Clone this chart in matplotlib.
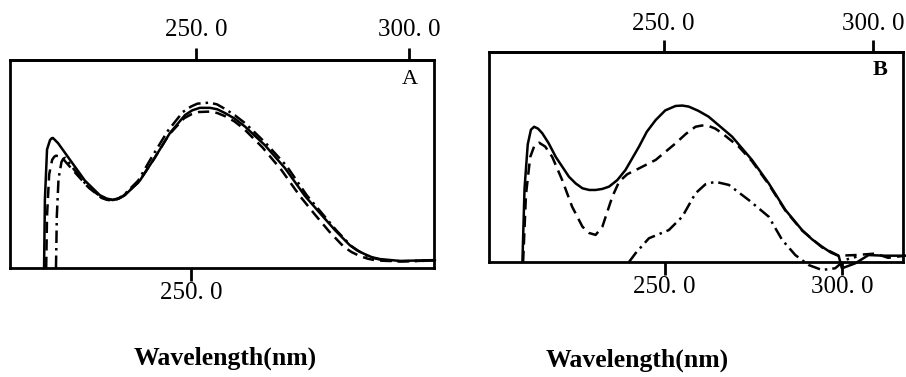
import matplotlib
matplotlib.use("Agg")
import matplotlib.pyplot as plt

# ---------------- Data (wavelength nm, relative absorbance) ----------------
# Panel A
a_solid_x = [215.5, 215.7, 216.2, 216.9, 217.3, 217.6, 218.8, 221.6, 225.1, 228.6, 230.2, 231.7,
             233.1, 234.5, 238.0, 241.5, 245.1, 248.6, 250.3, 252.1, 254.5, 256.2, 258.0, 260.3,
             262.7, 267.4, 272.1, 276.8, 280.3, 283.8, 287.3, 289.0, 290.8, 292.5, 294.4, 299.1,
             307.3]
a_solid_y = [0.0, 0.33, 0.57, 0.615, 0.624, 0.625, 0.60, 0.52, 0.42, 0.35, 0.334, 0.327,
             0.334, 0.35, 0.42, 0.53, 0.65, 0.735, 0.758, 0.77, 0.77, 0.763, 0.745, 0.718,
             0.68, 0.59, 0.48, 0.346, 0.264, 0.183, 0.11, 0.085, 0.067, 0.052, 0.043, 0.034,
             0.038]
a_dash_x = [216.0, 216.2, 216.7, 217.4, 217.9, 218.3, 219.5, 222.3, 225.8, 229.0, 230.2, 231.2,
            232.6, 234.0, 237.6, 241.2, 244.8, 248.4, 250.2, 251.9, 254.5, 256.2, 258.0, 260.2,
            262.4, 266.8, 271.3, 275.6, 279.0, 282.5, 286.0, 287.8, 289.6, 291.5, 293.5, 299.0,
            307.3]
a_dash_y = [0.0, 0.25, 0.45, 0.52, 0.535, 0.54, 0.535, 0.47, 0.39, 0.337, 0.328, 0.325,
            0.33, 0.345, 0.41, 0.52, 0.64, 0.72, 0.74, 0.75, 0.752, 0.745, 0.73, 0.705,
            0.67, 0.58, 0.47, 0.346, 0.26, 0.175, 0.10, 0.076, 0.058, 0.045, 0.036, 0.032,
            0.036]
a_dd_x = [218.3, 218.5, 218.9, 219.6, 220.0, 220.5, 222.3, 225.8, 229.0, 231.5, 233.0, 234.2,
          237.6, 241.0, 244.6, 248.1, 250.0, 251.5, 254.3, 256.1, 258.0, 260.4, 262.8, 267.6,
          272.5, 277.2, 280.7, 284.2, 287.7, 289.5, 291.2, 293.0, 295.0, 299.5, 307.3]
a_dd_y = [0.0, 0.25, 0.43, 0.51, 0.525, 0.53, 0.48, 0.39, 0.34, 0.327, 0.335, 0.35,
          0.42, 0.54, 0.66, 0.75, 0.776, 0.79, 0.795, 0.787, 0.765, 0.733, 0.695, 0.60,
          0.49, 0.35, 0.265, 0.18, 0.105, 0.08, 0.06, 0.047, 0.038, 0.032, 0.036]

# Panel B
b_solid_x = [210.0, 210.6, 211.5, 212.4, 213.3, 214.4, 215.6, 217.4, 219.4, 223.1, 225.0, 226.9,
             228.8, 230.6, 232.5, 234.4, 236.7, 239.0, 242.8, 245.0, 247.5, 250.2, 253.1, 255.0,
             256.8, 259.5, 262.4, 269.0, 274.6, 279.3, 284.0, 288.7, 291.5, 294.3, 296.8, 299.0,
             299.9, 301.5, 303.7, 307.4, 312.0, 317.7]
b_solid_y = [0.0, 0.35, 0.56, 0.63, 0.644, 0.635, 0.613, 0.565, 0.50, 0.406, 0.374, 0.351,
             0.343, 0.343, 0.348, 0.359, 0.39, 0.438, 0.549, 0.62, 0.676, 0.722, 0.743, 0.745,
             0.74, 0.72, 0.692, 0.597, 0.486, 0.375, 0.248, 0.152, 0.108, 0.073, 0.045, 0.029,
             -0.03, -0.02, -0.006, 0.033, 0.03, 0.03]
b_dash_x = [210.2, 211.0, 212.2, 213.4, 214.7, 216.4, 218.4, 221.2, 224.0, 226.9, 228.8, 230.6,
            232.5, 235.3, 237.2, 239.5, 241.9, 247.5, 253.1, 256.0, 258.7, 260.5, 262.4, 264.3,
            266.2, 270.9, 274.6, 279.3, 284.0, 288.7, 294.3, 299.0, 303.7, 309.3, 312.9, 317.7]
b_dash_y = [0.0, 0.32, 0.50, 0.555, 0.568, 0.55, 0.50, 0.39, 0.263, 0.168, 0.138, 0.129,
            0.168, 0.311, 0.382, 0.418, 0.438, 0.486, 0.565, 0.61, 0.644, 0.65, 0.648, 0.635,
            0.613, 0.549, 0.48, 0.37, 0.245, 0.15, 0.07, 0.03, 0.033, 0.04, 0.02, 0.03]
b_dd_x = [240.0, 241.9, 245.6, 251.2, 255.0, 258.7, 261.5, 264.3, 268.1, 273.7, 279.3, 283.1,
          286.8, 290.5, 294.3, 298.0, 300.8, 304.0]
b_dd_y = [0.0, 0.043, 0.113, 0.152, 0.216, 0.327, 0.37, 0.382, 0.367, 0.295, 0.216, 0.105,
          0.033, -0.014, -0.038, -0.03, 0.01, 0.025]

a_top_ticks = [250.0, 300.0]
a_bottom_ticks = [250.0]
b_top_ticks = [250.0, 300.0]
b_bottom_ticks = [250.0, 300.0]
tick_fmt = lambda v: f"{v:.0f}. 0"
xlabel = "Wavelength(nm)"

# ---------------- Figure ----------------
W, H = 906, 377
fig = plt.figure(figsize=(W / 100, H / 100), dpi=100)
serif = ["Liberation Serif", "DejaVu Serif"]

def px_axes(l, t, r, b):
    return fig.add_axes([l / W, 1 - b / H, (r - l) / W, (b - t) / H])

axA = px_axes(10, 60, 434, 268)
axB = px_axes(489, 52, 903, 262)

dash = (0, (4.5, 2.5))
dashdot = (0, (5, 2, 1, 2))
lw = 1.8

for ax, xs, ys, ls in [
    (axA, a_solid_x, a_solid_y, "-"),
    (axA, a_dash_x, a_dash_y, dash),
    (axA, a_dd_x, a_dd_y, dashdot),
    (axB, b_solid_x, b_solid_y, "-"),
    (axB, b_dash_x, b_dash_y, dash),
    (axB, b_dd_x, b_dd_y, dashdot),
]:
    ax.plot(xs, ys, color="black", lw=lw, linestyle=ls, clip_on=False,
            solid_joinstyle="round", dash_joinstyle="round")

axA.set_xlim(207.5, 307.1)
axB.set_xlim(200.6, 317.1)
for ax in (axA, axB):
    ax.set_ylim(0, 1)
    ax.set_yticks([])
    for s in ax.spines.values():
        s.set_linewidth(2.0)
    ax.tick_params(axis="x", direction="out", length=9, width=2, pad=1)

# bottom ticks
axA.set_xticks(a_bottom_ticks)
axA.set_xticklabels([tick_fmt(v) for v in a_bottom_ticks], fontsize=18, family=serif)
axB.set_xticks(b_bottom_ticks)
axB.set_xticklabels([tick_fmt(v) for v in b_bottom_ticks], fontsize=18, family=serif)

# top axes (different scanned scales)
secA = axA.secondary_xaxis("top", functions=(lambda x: x - 1.2, lambda x: x + 1.2))
secB = axB.secondary_xaxis("top", functions=(lambda b: 250 + ((b - 250) * 3.56 + 1) / 4.2,
                                             lambda t: 250 + ((t - 250) * 4.2 - 1) / 3.56))
for sec, ticks, pad in [(secA, a_top_ticks, 5), (secB, b_top_ticks, 3)]:
    sec.set_xticks(ticks)
    sec.set_xticklabels([tick_fmt(v) for v in ticks], fontsize=18, family=serif)
    sec.tick_params(axis="x", direction="out", length=9, width=2, pad=pad)
    sec.spines["top"].set_linewidth(2.0)

axA.text(410 / W, 1 - 80 / H, "A", transform=fig.transFigure, fontsize=16,
         family=serif, ha="center", va="center")
axB.text(880 / W, 1 - 70 / H, "B", transform=fig.transFigure, fontsize=16, fontweight="bold",
         family=serif, ha="center", va="center")

fig.text(225 / W, 1 - 358 / H, xlabel, fontsize=18.5, fontweight="bold", family=serif,
         ha="center", va="center")
fig.text(637 / W, 1 - 360 / H, xlabel, fontsize=18.5, fontweight="bold", family=serif,
         ha="center", va="center")

fig.savefig("out.png", dpi=100)
